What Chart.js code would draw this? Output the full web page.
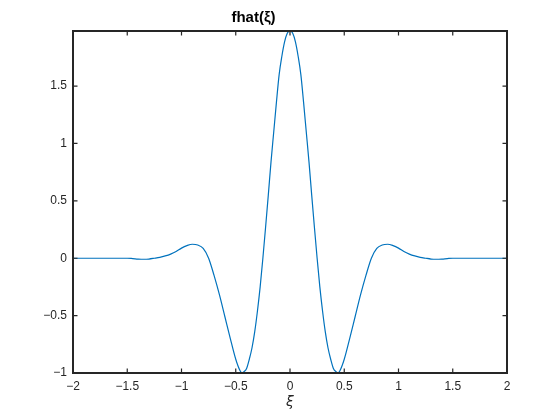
<!DOCTYPE html>
<html>
<head>
<meta charset="utf-8">
<script src="https://cdn.jsdelivr.net/npm/chart.js@4.4.1/dist/chart.umd.min.js"></script>
<style>
html,body{margin:0;padding:0;background:#fff;}
canvas{display:block;}
</style>
</head>
<body>
<canvas id="c" width="560" height="420"></canvas>
<script>
// Values
const xi = [
  -2.0, -1.75, -1.5, -1.45, -1.4, -1.35, -1.3, -1.25, -1.2, -1.15, -1.1, -1.05,
  -1.0, -0.95, -0.9, -0.85, -0.8, -0.75, -0.7, -0.65, -0.6, -0.55, -0.5, -0.46,
  -0.44, -0.425, -0.4, -0.375, -0.35, -0.325, -0.3, -0.275, -0.25, -0.225, -0.2,
  -0.175, -0.15, -0.125, -0.1, -0.075, -0.05, -0.025, 0.0,
  0.025, 0.05, 0.075, 0.1, 0.125, 0.15, 0.175, 0.2, 0.225, 0.25, 0.275, 0.3,
  0.325, 0.35, 0.375, 0.4, 0.425, 0.44, 0.46, 0.5, 0.55, 0.6, 0.65, 0.7, 0.75,
  0.8, 0.85, 0.9, 0.95, 1.0, 1.05, 1.1, 1.15, 1.2, 1.25, 1.3, 1.35, 1.4, 1.45,
  1.5, 1.75, 2.0
];
const fhat = [
  0.0, 0.0, 0.0, -0.003, -0.007, -0.009, -0.007, 0.0, 0.008, 0.02, 0.036, 0.058,
  0.088, 0.11, 0.122, 0.115, 0.085, 0.0, -0.15, -0.32, -0.51, -0.70, -0.88, -0.98,
  -1.0, -0.99, -0.96, -0.88, -0.78, -0.64, -0.46, -0.25, 0.0, 0.27, 0.55,
  0.84, 1.10, 1.36, 1.60, 1.76, 1.885, 1.96, 1.98,
  1.96, 1.885, 1.76, 1.60, 1.36, 1.10, 0.84, 0.55, 0.27, 0.0, -0.25, -0.46,
  -0.64, -0.78, -0.88, -0.96, -0.99, -1.0, -0.98, -0.88, -0.70, -0.51, -0.32, -0.15, 0.0,
  0.085, 0.115, 0.122, 0.11, 0.088, 0.058, 0.036, 0.02, 0.008, 0.0, -0.007, -0.009, -0.007, -0.003,
  0.0, 0.0, 0.0
];
const xTicks = [-2, -1.5, -1, -0.5, 0, 0.5, 1, 1.5, 2];
const xTickLabels = ['\u22122', '\u22121.5', '\u22121', '\u22120.5', '0', '0.5', '1', '1.5', '2'];
const yTicks = [-1, -0.5, 0, 0.5, 1, 1.5];
const yTickLabels = ['\u22121', '\u22120.5', '0', '0.5', '1', '1.5'];
const titleText = 'fhat(\u03BE)';
const xLabel = '\u03BE';

const points = xi.map((v, i) => ({x: v, y: fhat[i]}));

const frame = {
  id: 'frame',
  afterDraw(chart) {
    const {ctx, chartArea: a, scales: {x, y}} = chart;
    const L = 4.5;
    ctx.save();
    ctx.strokeStyle = '#262626';
    ctx.lineWidth = 1.2;
    ctx.beginPath();
    x.ticks.forEach(t => {
      const p = x.getPixelForValue(t.value);
      ctx.moveTo(p, a.bottom); ctx.lineTo(p, a.bottom - L);
      ctx.moveTo(p, a.top); ctx.lineTo(p, a.top + L);
    });
    y.ticks.forEach(t => {
      const p = y.getPixelForValue(t.value);
      ctx.moveTo(a.left, p); ctx.lineTo(a.left + L, p);
      ctx.moveTo(a.right, p); ctx.lineTo(a.right - L, p);
    });
    ctx.stroke();
    ctx.lineWidth = 2;
    ctx.strokeRect(a.left, a.top, a.right - a.left, a.bottom - a.top);
    ctx.restore();
  }
};

new Chart(document.getElementById('c'), {
  type: 'line',
  data: {
    datasets: [{
      data: points,
      borderColor: '#0072BD',
      borderWidth: 1.2,
      pointRadius: 0,
      fill: false,
      cubicInterpolationMode: 'monotone'
    }]
  },
  options: {
    responsive: false,
    maintainAspectRatio: false,
    devicePixelRatio: 1,
    animation: false,
    layout: {padding: {left: 0, right: 53, top: 0, bottom: 0}},
    plugins: {
      legend: {display: false},
      tooltip: {enabled: false},
      title: {
        display: true,
        text: titleText,
        color: '#000',
        font: {family: 'Liberation Sans', size: 15, weight: 'bold'},
        padding: {top: 9, bottom: 4}
      }
    },
    scales: {
      x: {
        type: 'linear',
        min: -2, max: 2,
        afterBuildTicks: s => { s.ticks = xTicks.map(v => ({value: v})); },
        afterFit: s => { s.height = 47; },
        grid: {display: false, drawTicks: false},
        border: {display: false},
        ticks: {
          padding: 6,
          maxRotation: 0,
          autoSkip: false,
          color: '#262626',
          font: {family: 'Liberation Sans', size: 12},
          callback: (v, i) => xTickLabels[i]
        },
        title: {
          display: true,
          text: xLabel,
          color: '#262626',
          font: {family: 'DejaVu Sans', size: 14, style: 'italic'},
          padding: {top: 0, bottom: 9}
        }
      },
      y: {
        type: 'linear',
        min: -1, max: 1.98,
        afterBuildTicks: s => { s.ticks = yTicks.map(v => ({value: v})); },
        afterFit: s => { s.width = 73; },
        grid: {display: false, drawTicks: false},
        border: {display: false},
        ticks: {
          padding: 6,
          autoSkip: false,
          color: '#262626',
          font: {family: 'Liberation Sans', size: 12},
          callback: (v, i) => yTickLabels[i]
        }
      }
    }
  },
  plugins: [frame]
});
</script>
</body>
</html>
